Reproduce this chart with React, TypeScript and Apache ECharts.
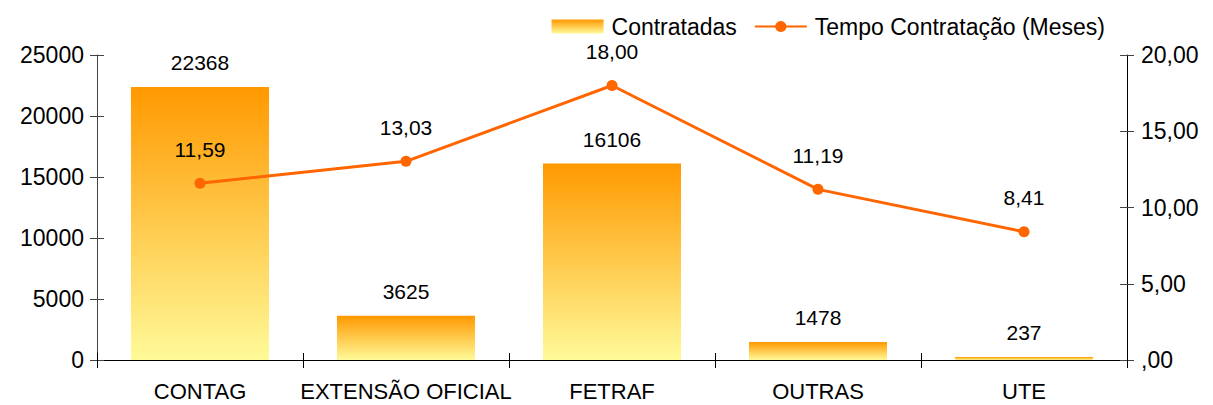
import React, { useEffect, useRef } from "react";
import * as echarts from "echarts";

const categories = ["CONTAG", "EXTENSÃO OFICIAL", "FETRAF", "OUTRAS", "UTE"];
const contratadas = [22368, 3625, 16106, 1478, 237];
const tempoMeses = [11.59, 13.03, 18.0, 11.19, 8.41];

const fmtComma = (v: number) => {
  const s = v.toFixed(2).replace(".", ",");
  return s.startsWith("0,") ? s.slice(1) : s;
};

export default function App() {
  const ref = useRef<HTMLDivElement>(null);
  useEffect(() => {
    if (!ref.current) return;
    const chart = echarts.init(ref.current, undefined, { renderer: "svg" });
    const font = "Liberation Sans, Arial, sans-serif";
    const hidden = { show: false };
    chart.setOption({
      animation: false,
      textStyle: { fontFamily: font },
      legend: {
        top: 10,
        right: 103,
        itemWidth: 52,
        itemHeight: 14,
        itemGap: 17,
        textStyle: { fontSize: 23, color: "#000", fontFamily: font, padding: [0, 0, 0, 3] },
        data: [
          { name: "Contratadas", icon: "rect" },
          { name: "Tempo Contratação (Meses)" },
        ],
      },
      grid: { left: 97, right: 86, top: 55, bottom: 45 },
      xAxis: [
        {
          type: "category",
          data: categories,
          axisLine: { lineStyle: { color: "#000", width: 1 } },
          axisTick: { show: true, length: 8, lineStyle: { color: "#000" } },
          axisLabel: { color: "#000", fontSize: 22, margin: 20, interval: 0, fontFamily: font },
        },
        {
          type: "category",
          data: categories,
          position: "bottom",
          axisLine: hidden,
          axisTick: { show: true, inside: true, length: 7, lineStyle: { color: "#000" } },
          axisLabel: hidden,
        },
      ],
      yAxis: [
        {
          type: "value",
          min: 0,
          max: 25000,
          interval: 5000,
          splitLine: { show: false },
          axisLine: { show: true, lineStyle: { color: "#444" } },
          axisTick: { show: true, length: 7, lineStyle: { color: "#444" } },
          axisLabel: {
            color: "#000",
            fontSize: 23,
            margin: 13,
            fontFamily: font,
            formatter: (v: number) => String(v),
          },
        },
        {
          type: "value",
          min: 0,
          max: 20,
          interval: 5,
          splitLine: { show: false },
          axisLine: { show: true, lineStyle: { color: "#000" } },
          axisTick: { show: true, length: 7, lineStyle: { color: "#444" } },
          axisLabel: {
            color: "#000",
            fontSize: 23,
            margin: 14,
            fontFamily: font,
            formatter: (v: number) => fmtComma(v),
          },
        },
        {
          type: "value",
          min: 0,
          max: 25000,
          interval: 5000,
          position: "left",
          splitLine: hidden,
          axisLine: hidden,
          axisTick: { show: true, inside: true, length: 7, lineStyle: { color: "#444" } },
          axisLabel: hidden,
        },
        {
          type: "value",
          min: 0,
          max: 20,
          interval: 5,
          position: "right",
          splitLine: hidden,
          axisLine: hidden,
          axisTick: { show: true, inside: true, length: 7, lineStyle: { color: "#444" } },
          axisLabel: hidden,
        },
      ],
      series: [
        {
          name: "Contratadas",
          type: "bar",
          data: contratadas,
          barWidth: "67%",
          yAxisIndex: 0,
          xAxisIndex: 0,
          itemStyle: {
            color: new echarts.graphic.LinearGradient(0, 0, 0, 1, [
              { offset: 0, color: "#FF9900" },
              { offset: 1, color: "#FFFA99" },
            ]),
          },
          label: {
            show: true,
            position: "top",
            distance: 14,
            color: "#000",
            fontSize: 21,
            fontFamily: font,
          },
        },
        {
          name: "Tempo Contratação (Meses)",
          type: "line",
          data: tempoMeses,
          yAxisIndex: 1,
          xAxisIndex: 0,
          symbol: "circle",
          symbolSize: 11,
          lineStyle: { color: "#FF6600", width: 3 },
          itemStyle: { color: "#FF6600" },
          label: {
            show: true,
            position: "top",
            distance: 18,
            color: "#000",
            fontSize: 21,
            fontFamily: font,
            formatter: (p: any) => fmtComma(p.value),
          },
        },
      ],
    });
    return () => chart.dispose();
  }, []);
  return <div ref={ref} style={{ width: 1213, height: 405, position: "absolute", left: 0, top: 0 }} />;
}
